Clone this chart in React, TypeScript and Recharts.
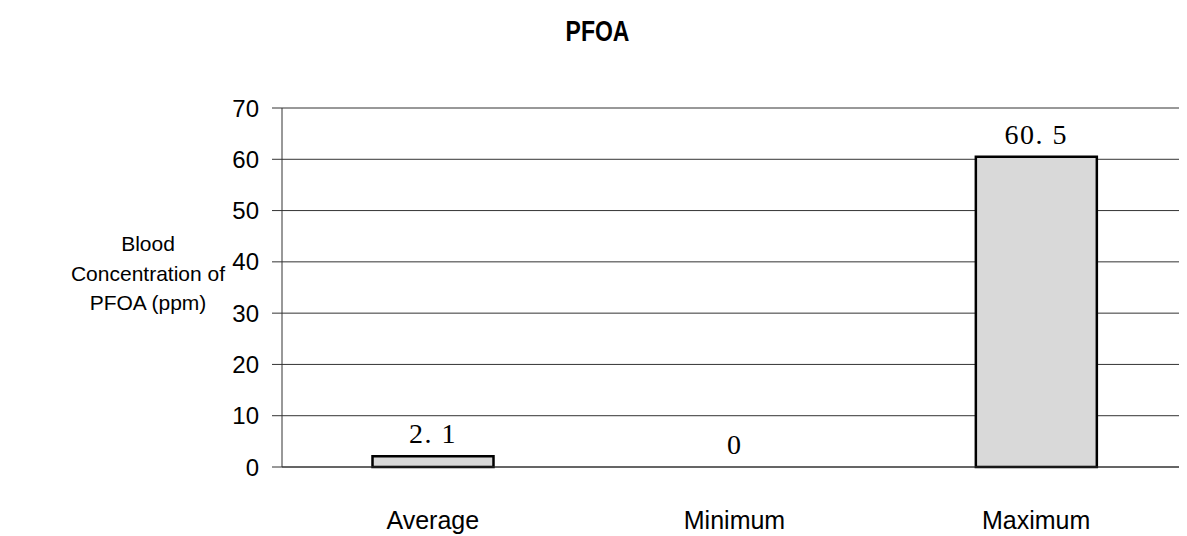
import { BarChart, Bar, XAxis, YAxis, CartesianGrid, LabelList, Label, Cell } from 'recharts';

const categories = ['Average', 'Minimum', 'Maximum'];
const concentration = [2.1, 0, 60.5];
const yTicks = [0, 10, 20, 30, 40, 50, 60, 70];
const yLabelLines = ['Blood', 'Concentration of', 'PFOA (ppm)'];

const data = categories.map((name, i) => ({ name, value: concentration[i] }));

const sans = '"Liberation Sans", Arial, sans-serif';

const YTitle = (props: any) => {
    const vb = props.viewBox || {};
    const cx = 140;
    const cy = (vb.y || 0) + (vb.height || 0) / 2 - 14;
    return (
        <text x={cx} y={cy} textAnchor="middle" fontFamily={sans} fontSize={21} fill="#000">
            {yLabelLines.map((line, i) => (
                <tspan key={i} x={cx} y={cy + (i - 1) * 29.5 + 7}>
                    {line}
                </tspan>
            ))}
        </text>
    );
};

const fmt = (v: any) => String(v).replace('.', '. ');

export default function App() {
    return (
        <div style={{ width: 1179, height: 528, position: 'relative', background: '#fff' }}>
            <div
                style={{
                    position: 'absolute',
                    left: 0,
                    width: 1179,
                    top: 8,
                    textAlign: 'center',
                    fontFamily: sans,
                    fontWeight: 'bold',
                    fontSize: 23,
                    lineHeight: '30px',
                    transform: 'scaleY(1.3)',
                }}
            >
                PFOA
            </div>
            <BarChart
                width={1179}
                height={528}
                data={data}
                margin={{ top: 100, right: 0, left: 0, bottom: 0 }}
                barCategoryGap="30%"
            >
                <CartesianGrid vertical={false} stroke="#333" />
                <XAxis
                    dataKey="name"
                    height={69}
                    tickLine={false}
                    tickMargin={38}
                    axisLine={{ stroke: '#333' }}
                    tick={{ fill: '#000', fontFamily: sans, fontSize: 25 }}
                />
                <YAxis
                    width={274}
                    domain={[0, 70]}
                    ticks={yTicks}
                    interval={0}
                    tickSize={10}
                    tickMargin={13}
                    axisLine={{ stroke: '#333' }}
                    tickLine={{ stroke: '#333' }}
                    tick={{ fill: '#000', fontFamily: sans, fontSize: 24 }}
                >
                    <Label content={<YTitle />} position="left" />
                </YAxis>
                <Bar
                    dataKey="value"
                    fill="#d9d9d9"
                    stroke="#000"
                    strokeWidth={2.5}
                    minPointSize={0.01}
                    isAnimationActive={false}
                >
                    {concentration.map((v, i) => (
                        <Cell key={i} stroke={v === 0 ? 'none' : '#000'} fill={v === 0 ? 'none' : '#d9d9d9'} />
                    ))}
                    <LabelList
                        dataKey="value"
                        position="top"
                        offset={13}
                        formatter={fmt}
                        fill="#000"
                        fontFamily='"Liberation Serif", "Times New Roman", serif'
                        fontSize={28}
                        letterSpacing={1.5}
                    />
                </Bar>
            </BarChart>
        </div>
    );
}
